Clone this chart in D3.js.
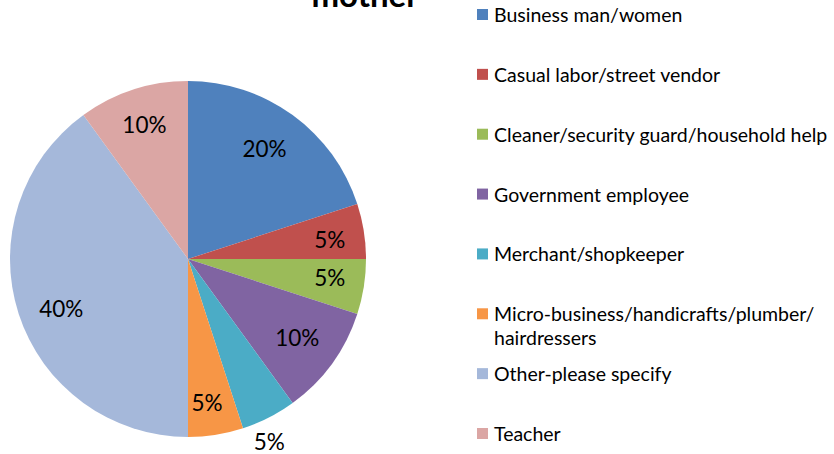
<!DOCTYPE html>
<html>
<head>
<meta charset="utf-8">
<script src="https://cdn.jsdelivr.net/npm/d3@7"></script>
<style>
  body { margin: 0; background: #fff; }
  svg { display: block; font-family: Lato, "Open Sans", sans-serif; }
</style>
</head>
<body>
<div id="chart"></div>
<script>
const categories = [
    'Business man/women',
    'Casual labor/street vendor',
    'Cleaner/security guard/household help',
    'Government employee',
    'Merchant/shopkeeper',
    'Micro-business/handicrafts/plumber/ hairdressers',
    'Other-please specify',
    'Teacher'
];
const values = [20, 5, 5, 10, 5, 5, 40, 10];
const colors = ['#4F81BD', '#C0504D', '#9BBB59', '#8064A2', '#4BACC6', '#F79646', '#A5B8DA', '#DBA6A4'];
const titleText = 'mother';

const width = 834, height = 454;
const svg = d3.select('#chart').append('svg')
    .attr('width', width)
    .attr('height', height);

// title, mostly cut off at the top like in the original
svg.append('text')
    .attr('x', 365)
    .attr('y', 7)
    .attr('text-anchor', 'middle')
    .style('font-weight', 'bold')
    .style('font-size', '33px')
    .text(titleText);

const cx = 188, cy = 259, r = 178;
const pie = d3.pie().sort(null).value(d => d)(values);
const arc = d3.arc().innerRadius(0).outerRadius(r);

const g = svg.append('g').attr('transform', `translate(${cx},${cy})`);

g.selectAll('.slice')
    .data(pie)
    .enter()
    .append('path')
    .attr('class', 'slice')
    .attr('d', arc)
    .attr('fill', (d, i) => colors[i]);

// label distance from centre and small angle nudge (deg); merchant sits outside
const labelDist = [134, 143, 143, 135, 200, 145, 136, 141];
const labelNudge = [-1.2, 1.4, -1.4, 0, 3, 1.5, -3.3, 0];

g.selectAll('.lbl')
    .data(pie)
    .enter()
    .append('text')
    .attr('class', 'lbl')
    .attr('transform', (d, i) => {
        const a = (d.startAngle + d.endAngle) / 2 + labelNudge[i] * Math.PI / 180;
        const rr = labelDist[i];
        return `translate(${Math.sin(a) * rr},${-Math.cos(a) * rr})`;
    })
    .attr('text-anchor', 'middle')
    .attr('dy', '0.36em')
    .style('font-size', '22.5px')
    .text(d => d.data + '%');

// legend
const legend = svg.append('g').attr('transform', 'translate(477,0)');
const rowY = d3.scalePoint().domain(d3.range(categories.length)).range([15, 434]);

const item = legend.selectAll('.item')
    .data(categories)
    .enter()
    .append('g')
    .attr('class', 'item')
    .attr('transform', (d, i) => `translate(0,${rowY(i)})`);

item.append('rect')
    .attr('x', 0)
    .attr('y', -6)
    .attr('width', 11)
    .attr('height', 11)
    .attr('fill', (d, i) => colors[i]);

item.append('text')
    .attr('x', 17)
    .attr('dy', '0.36em')
    .style('font-size', '19.5px')
    .each(function(d) {
        const parts = d.split(' hairdressers');
        const t = d3.select(this);
        if (parts.length > 1) {
            t.append('tspan').attr('x', 17).text(parts[0]);
            t.append('tspan').attr('x', 17).attr('dy', '1.23em').text('hairdressers');
        } else {
            t.text(d);
        }
    });
</script>
</body>
</html>
